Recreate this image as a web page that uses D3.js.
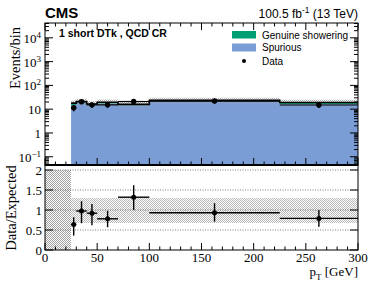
<!DOCTYPE html>
<html>
<head>
<meta charset="utf-8">
<script src="https://cdn.jsdelivr.net/npm/d3@7"></script>
<style>
  body { margin: 0; background: #fff; }
  svg { display: block; }
  .serif { font-family: "Liberation Serif", "DejaVu Serif", serif; }
  .sans { font-family: "Liberation Sans", Arial, sans-serif; }
</style>
</head>
<body>
<svg id="chart" width="374" height="301"></svg>
<script>
// bins in pT [GeV]
const binEdges = [25, 30, 40, 50, 70, 100, 225, 300];
const spurious = [15, 19.5, 14.5, 17.5, 14.5, 22.5, 16.5];
const genuine = [3, 1.5, 2, 2, 1.5, 1, 2.5];
const dataCounts = [11.5, 20.5, 15.2, 15.2, 21, 22, 15];
const ratioValues = [0.64, 0.975, 0.92, 0.78, 1.32, 0.93, 0.79];
const ratioErrUp = [0.18, 0.245, 0.23, 0.2, 0.3, 0.24, 0.21];
const ratioErrDown = [0.28, 0.305, 0.3, 0.21, 0.32, 0.22, 0.21];
const uncUp = [0.3, 0.3, 0.3, 0.3, 0.3, 0.3, 0.3];
const uncDown = [0.325, 0.325, 0.325, 0.325, 0.325, 0.325, 0.325];
const xTicks = [0, 50, 100, 150, 200, 250, 300];
const logTicks = [-1, 0, 1, 2, 3, 4];
const ratioTicks = [0, 0.5, 1, 1.5, 2];

const svg = d3.select("#chart");
const left = 45, right = 358;
const topY = 23, midY = 165, botY = 250;

const x = d3.scaleLinear().domain([0, 300]).range([left, right]);
const y = d3.scaleLog().domain([0.045, 4.2e4]).range([midY, topY]);
const yr = d3.scaleLinear().domain([0, 2.125]).range([botY, midY]);

const bins = spurious.map((s, i) => ({
  x0: binEdges[i], x1: binEdges[i + 1],
  spur: s, total: s + genuine[i],
  data: dataCounts[i], ratio: ratioValues[i],
  rUp: ratioErrUp[i], rDn: ratioErrDown[i],
  uUp: uncUp[i], uDn: uncDown[i]
}));

// step points for areas (each bin contributes its two edges)
const stepPts = [];
bins.forEach(d => { stepPts.push({ x: d.x0, b: d }, { x: d.x1, b: d }); });

// checker pattern for uncertainties
const defs = svg.append("defs");
const pat = defs.append("pattern").attr("id", "checker")
  .attr("width", 2).attr("height", 2).attr("patternUnits", "userSpaceOnUse");
pat.append("rect").attr("width", 1).attr("height", 1).attr("fill", "#a0a0a0");
pat.append("rect").attr("x", 1).attr("y", 1).attr("width", 1).attr("height", 1).attr("fill", "#a0a0a0");
defs.append("clipPath").attr("id", "clipTop").append("rect")
  .attr("x", left).attr("y", topY).attr("width", right - left).attr("height", midY - topY);

// ---- top panel ----
const gTop = svg.append("g").attr("clip-path", "url(#clipTop)");
gTop.append("path")
  .attr("d", d3.area().x(p => x(p.x)).y0(midY).y1(p => y(p.b.spur))(stepPts))
  .attr("fill", "#7b9dd6");
gTop.append("path")
  .attr("d", d3.area().x(p => x(p.x)).y0(p => y(p.b.spur)).y1(p => y(p.b.total))(stepPts))
  .attr("fill", "#009e73");
// uncertainty band: upper part over white, lower part over the fill (faint)
gTop.append("path")
  .attr("d", d3.area().x(p => x(p.x)).y0(p => y(p.b.total)).y1(p => y(p.b.total * (1 + p.b.uUp)))(stepPts))
  .attr("fill", "url(#checker)").attr("opacity", 0.85);
gTop.append("path")
  .attr("d", d3.area().x(p => x(p.x)).y0(p => y(p.b.total * (1 - p.b.uDn))).y1(p => y(p.b.total))(stepPts))
  .attr("fill", "url(#checker)").attr("opacity", 0.35);

gTop.append("path")
  .attr("d", d3.line().x(p => x(p.x)).y(p => y(p.b.total))(stepPts))
  .attr("fill", "none").attr("stroke", "#000").attr("stroke-width", 1.6);

const pts = gTop.selectAll("g.pt").data(bins).join("g");
pts.append("line")
  .attr("x1", d => x(d.x0)).attr("x2", d => x(d.x1))
  .attr("y1", d => y(d.data)).attr("y2", d => y(d.data))
  .attr("stroke", "#000").attr("stroke-width", 1.2);
pts.append("line")
  .attr("x1", d => x((d.x0 + d.x1) / 2)).attr("x2", d => x((d.x0 + d.x1) / 2))
  .attr("y1", d => y(d.data + Math.sqrt(d.data))).attr("y2", d => y(d.data - Math.sqrt(d.data)))
  .attr("stroke", "#000").attr("stroke-width", 1.4);
pts.append("circle")
  .attr("cx", d => x((d.x0 + d.x1) / 2)).attr("cy", d => y(d.data))
  .attr("r", 2.7).attr("fill", "#000");

// ---- ratio panel ----
const gR = svg.append("g");
gR.append("rect")
  .attr("x", x(0)).attr("width", x(binEdges[0]) - x(0))
  .attr("y", yr(2)).attr("height", yr(0) - yr(2))
  .attr("fill", "url(#checker)");
gR.append("path")
  .attr("d", d3.area().x(p => x(p.x)).y0(p => yr(1 - p.b.uDn)).y1(p => yr(1 + p.b.uUp))(stepPts))
  .attr("fill", "url(#checker)").attr("opacity", 0.75);
gR.selectAll("line.grid").data([0.5, 1, 1.5, 2]).join("line")
  .attr("x1", left).attr("x2", right)
  .attr("y1", d => yr(d)).attr("y2", d => yr(d))
  .attr("stroke", "#555").attr("stroke-width", 0.8).attr("stroke-dasharray", "1,1.5");

const rp = gR.selectAll("g.rp").data(bins).join("g");
rp.append("line")
  .attr("x1", d => x(d.x0)).attr("x2", d => x(d.x1))
  .attr("y1", d => yr(d.ratio)).attr("y2", d => yr(d.ratio))
  .attr("stroke", "#000").attr("stroke-width", 1.4);
rp.append("line")
  .attr("x1", d => x((d.x0 + d.x1) / 2)).attr("x2", d => x((d.x0 + d.x1) / 2))
  .attr("y1", d => yr(d.ratio + d.rUp)).attr("y2", d => yr(d.ratio - d.rDn))
  .attr("stroke", "#000").attr("stroke-width", 1.4);
rp.append("circle")
  .attr("cx", d => x((d.x0 + d.x1) / 2)).attr("cy", d => yr(d.ratio))
  .attr("r", 2.5).attr("fill", "#000");

// ---- axes ----
const minorX = d3.range(0, 301, 10);
function xAxisTicks(yPos, dir) {
  // dir: +1 ticks point down, -1 point up
  svg.append("g").selectAll("line").data(minorX).join("line")
    .attr("x1", d => x(d)).attr("x2", d => x(d))
    .attr("y1", yPos).attr("y2", d => yPos + dir * (d % 50 === 0 ? 7 : 3.5))
    .attr("stroke", "#000").attr("stroke-width", 1);
}
xAxisTicks(topY, 1);
xAxisTicks(midY, -1);
xAxisTicks(botY, -1);

const minorLog = [];
for (let e = -2; e <= 4; e++) for (let m = 1; m < 10; m++) minorLog.push(m * Math.pow(10, e));
const minorVis = minorLog.filter(v => v >= 0.045 && v <= 4.2e4);
function yLogTicks(xPos, dir) {
  svg.append("g").selectAll("line").data(minorVis).join("line")
    .attr("x1", xPos).attr("x2", d => xPos + dir * (Math.abs(Math.log10(d) - Math.round(Math.log10(d))) < 1e-6 ? 8 : 4))
    .attr("y1", d => y(d)).attr("y2", d => y(d))
    .attr("stroke", "#000").attr("stroke-width", 1);
}
yLogTicks(left, 1);
yLogTicks(right, -1);

function yRatioTicks(xPos, dir) {
  svg.append("g").selectAll("line").data(ratioTicks).join("line")
    .attr("x1", xPos).attr("x2", xPos + dir * 8)
    .attr("y1", d => yr(d)).attr("y2", d => yr(d))
    .attr("stroke", "#000").attr("stroke-width", 1);
}
yRatioTicks(left, 1);
yRatioTicks(right, -1);

// frames
svg.append("rect").attr("x", left).attr("y", topY).attr("width", right - left).attr("height", midY - topY)
  .attr("fill", "none").attr("stroke", "#000").attr("stroke-width", 1);
svg.append("rect").attr("x", left).attr("y", midY).attr("width", right - left).attr("height", botY - midY)
  .attr("fill", "none").attr("stroke", "#000").attr("stroke-width", 1);
svg.append("line").attr("x1", left).attr("x2", right).attr("y1", midY).attr("y2", midY)
  .attr("stroke", "#000").attr("stroke-width", 2);

// tick labels
const logLab = svg.append("g").attr("class", "serif").attr("font-size", 13);
logTicks.forEach(e => {
  const t = logLab.append("text").attr("x", left - 4).attr("y", y(Math.pow(10, e)) + 5)
    .attr("text-anchor", "end");
  if (e === 0) t.text("1");
  else if (e === 1) t.text("10");
  else {
    t.append("tspan").text("10");
    t.append("tspan").attr("dy", -5).attr("font-size", 9).text(e === -1 ? "\u22121" : String(e));
  }
});
svg.append("g").attr("class", "serif").attr("font-size", 13)
  .selectAll("text").data(ratioTicks).join("text")
  .attr("x", left - 3).attr("y", d => yr(d) + 4.5).attr("text-anchor", "end")
  .text(d => String(d));
svg.append("g").attr("class", "serif").attr("font-size", 13)
  .selectAll("text").data(xTicks).join("text")
  .attr("x", d => x(d)).attr("y", 262).attr("text-anchor", "middle")
  .text(d => String(d));

// axis titles
svg.append("text").attr("class", "serif").attr("font-size", 14.5)
  .attr("transform", "translate(20,58) rotate(-90)").attr("text-anchor", "middle")
  .text("Events/bin");
svg.append("text").attr("class", "serif").attr("font-size", 14.5)
  .attr("transform", "translate(16,208) rotate(-90)").attr("text-anchor", "middle")
  .text("Data/Expected");
const xl = svg.append("text").attr("class", "serif").attr("font-size", 13)
  .attr("x", right).attr("y", 276).attr("text-anchor", "end");
xl.append("tspan").text("p");
xl.append("tspan").attr("dy", 3.5).attr("font-size", 9).text("T");
xl.append("tspan").attr("dy", -3.5).text(" [GeV]");

// header texts
svg.append("text").attr("class", "sans").attr("font-weight", "bold").attr("font-size", 15)
  .attr("x", left).attr("y", 18).text("CMS");
const lum = svg.append("text").attr("class", "sans").attr("font-size", 12)
  .attr("x", right).attr("y", 18).attr("text-anchor", "end");
lum.append("tspan").text("100.5 fb");
lum.append("tspan").attr("dy", -5).attr("font-size", 8.5).text("-1");
lum.append("tspan").attr("dy", 5).text(" (13 TeV)");
svg.append("text").attr("class", "sans").attr("font-weight", "bold").attr("font-size", 10.5)
  .attr("x", 59).attr("y", 37).text("1 short DTk , QCD CR");

// legend
const leg = svg.append("g").attr("class", "sans").attr("font-size", 10);
leg.append("rect").attr("x", 232).attr("y", 31).attr("width", 24).attr("height", 7.5).attr("fill", "#009e73");
leg.append("text").attr("x", 262).attr("y", 38.5).text("Genuine showering");
leg.append("rect").attr("x", 232).attr("y", 43.5).attr("width", 24).attr("height", 8).attr("fill", "#7b9dd6");
leg.append("text").attr("x", 262).attr("y", 51).text("Spurious");
leg.append("circle").attr("cx", 244).attr("cy", 61).attr("r", 2).attr("fill", "#000");
leg.append("text").attr("x", 262).attr("y", 65).text("Data");
</script>
</body>
</html>
